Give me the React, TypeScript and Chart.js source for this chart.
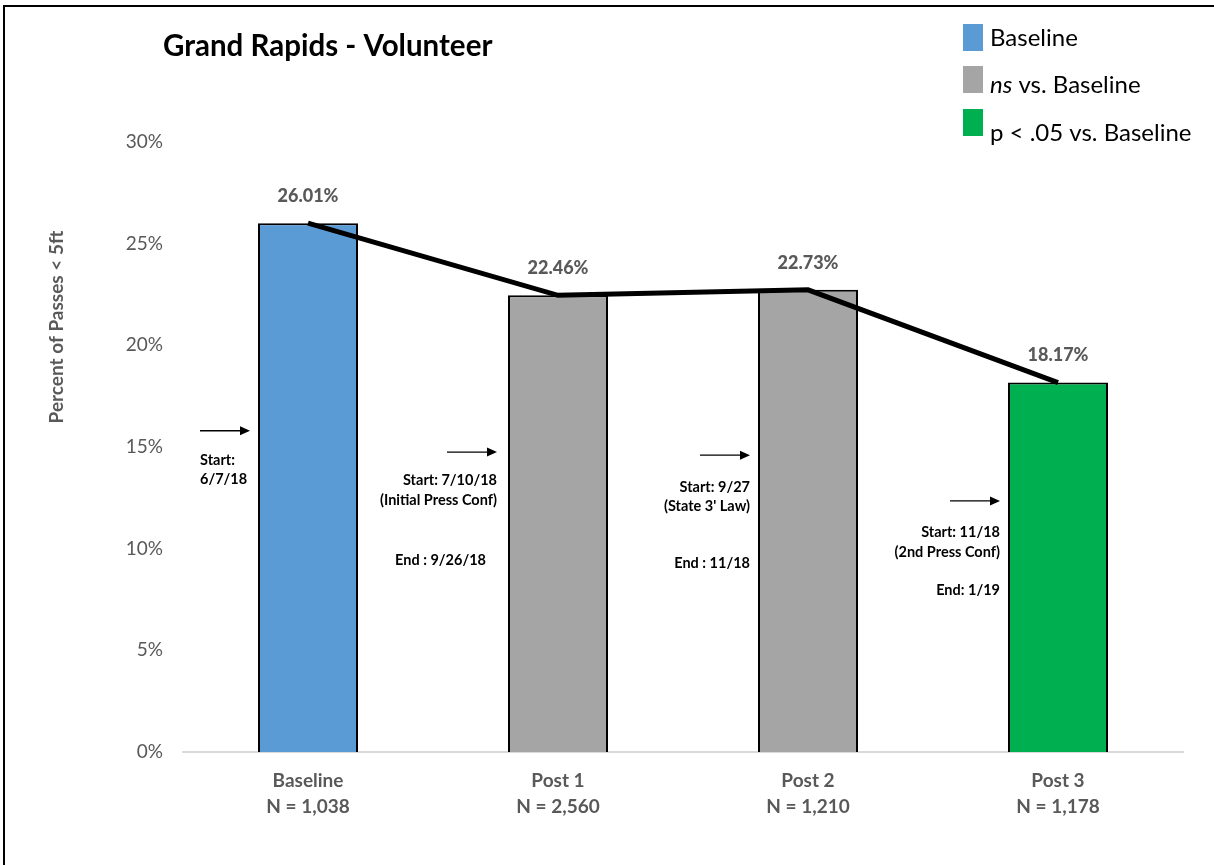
import React, { useEffect, useRef } from "react";
import { Chart, registerables } from "chart.js";

Chart.register(...registerables);

const categories: string[][] = [
  ["Baseline", "N = 1,038"],
  ["Post 1", "N = 2,560"],
  ["Post 2", "N = 1,210"],
  ["Post 3", "N = 1,178"],
];
const values: number[] = [26.01, 22.46, 22.73, 18.17];
const barColors: string[] = ["#5b9bd5", "#a5a5a5", "#a5a5a5", "#00b050"];
const yTicks: number[] = [0, 5, 10, 15, 20, 25, 30];
const titleText = "Grand Rapids - Volunteer";
const yTitle = "Percent of Passes < 5ft";
const legendItems = [
  { color: "#5b9bd5", italic: "", text: "Baseline" },
  { color: "#a5a5a5", italic: "ns", text: " vs. Baseline" },
  { color: "#00b050", italic: "", text: "p < .05 vs. Baseline" },
];
// arrow level (in % units) and note lines for each category
const arrowLevels: number[] = [15.8, 14.75, 14.6, 12.35];
const noteStart: string[][] = [
  ["Start:", "6/7/18"],
  ["Start: 7/10/18", "(Initial Press Conf)"],
  ["Start: 9/27", "(State 3' Law)"],
  ["Start: 11/18", "(2nd Press Conf)"],
];
const noteEnd: string[] = ["", "End : 9/26/18", "End : 11/18", "End: 1/19"];

// styling offsets for notes (pixels)
const tipOffset = [58, 61, 58, 58];
const startOffsets = [[30, 49], [28, 48], [32, 51], [31, 51]];
const endOffset = [0, 108, 108, 89];
const endShift = [0, 11, 0, 0];

const FONT = "Lato, 'Open Sans', sans-serif";

export default function App() {
  const ref = useRef<HTMLCanvasElement | null>(null);
  useEffect(() => {
    document.body.style.margin = "0";
    const canvas = ref.current!;
    const overlay = {
      id: "overlay",
      afterDatasetsDraw(chart: any) {
        const ctx = chart.ctx as CanvasRenderingContext2D;
        const x = chart.scales.x;
        const y = chart.scales.y;
        ctx.save();
        // data labels
        ctx.fillStyle = "#595959";
        ctx.font = `900 18px ${FONT}`;
        ctx.textAlign = "center";
        ctx.textBaseline = "middle";
        values.forEach((v, i) => {
          ctx.fillText(v.toFixed(2) + "%", x.getPixelForValue(i), y.getPixelForValue(v) - 27);
        });
        // arrows & notes
        ctx.fillStyle = "#000";
        ctx.strokeStyle = "#000";
        ctx.lineWidth = 1.3;
        values.forEach((_, i) => {
          const cx = x.getPixelForValue(i);
          const ay = y.getPixelForValue(arrowLevels[i]);
          const x1 = cx - tipOffset[i];
          const x0 = x1 - 50;
          ctx.beginPath();
          ctx.moveTo(x0, ay);
          ctx.lineTo(x1 - 8, ay);
          ctx.stroke();
          ctx.beginPath();
          ctx.moveTo(x1, ay);
          ctx.lineTo(x1 - 10, ay - 4.5);
          ctx.lineTo(x1 - 10, ay + 4.5);
          ctx.closePath();
          ctx.fill();
          ctx.font = `bold 14.5px ${FONT}`;
          ctx.textBaseline = "middle";
          if (i === 0) {
            ctx.textAlign = "left";
            noteStart[i].forEach((t, k) => ctx.fillText(t, x0, ay + startOffsets[i][k]));
          } else {
            ctx.textAlign = "right";
            noteStart[i].forEach((t, k) => ctx.fillText(t, x1, ay + startOffsets[i][k]));
            ctx.fillText(noteEnd[i], x1 - endShift[i], ay + endOffset[i]);
          }
        });
        // title
        ctx.textAlign = "left";
        ctx.textBaseline = "alphabetic";
        ctx.font = `bold 29.5px ${FONT}`;
        ctx.fillText(titleText, 163, 56);
        // y axis title
        ctx.save();
        ctx.translate(57, 327);
        ctx.rotate(-Math.PI / 2);
        ctx.textAlign = "center";
        ctx.textBaseline = "middle";
        ctx.fillStyle = "#595959";
        ctx.font = `bold 19px ${FONT}`;
        ctx.fillText(yTitle, 0, 0);
        ctx.restore();
        // legend
        const sqTops = [24, 66, 109];
        const baselines = [46, 93, 141];
        legendItems.forEach((it, k) => {
          ctx.fillStyle = it.color;
          ctx.fillRect(963, sqTops[k], 20, 27);
          ctx.fillStyle = "#000";
          ctx.textAlign = "left";
          ctx.textBaseline = "alphabetic";
          let tx = 990;
          if (it.italic) {
            ctx.font = `italic 24px ${FONT}`;
            ctx.fillText(it.italic, tx, baselines[k]);
            tx += ctx.measureText(it.italic).width;
          }
          ctx.font = `24px ${FONT}`;
          ctx.fillText(it.text, tx, baselines[k]);
        });
        ctx.restore();
      },
    };
    const chart = new Chart(canvas, {
      type: "bar",
      data: {
        labels: categories,
        datasets: [
          {
            type: "line",
            data: values,
            borderColor: "#000",
            borderWidth: 5,
            pointRadius: 0,
            tension: 0,
            order: 0,
          } as any,
          {
            type: "bar",
            data: values,
            backgroundColor: barColors,
            borderColor: "#000",
            borderWidth: 2,
            categoryPercentage: 0.4,
            barPercentage: 1,
            order: 1,
          },
        ],
      },
      options: {
        animation: false,
        responsive: false,
        maintainAspectRatio: false,
        layout: { padding: { top: 142, right: 31, left: 0, bottom: 0 } },
        plugins: { legend: { display: false }, tooltip: { enabled: false }, title: { display: false } },
        scales: {
          x: {
            grid: { display: false, drawTicks: false },
            border: { display: true, color: "#d9d9d9", width: 2 },
            ticks: {
              color: "#595959",
              font: { family: FONT, size: 19, weight: "bold", lineHeight: 1.37 },
              padding: 16,
              maxRotation: 0,
            },
            afterFit(s: any) {
              s.height = 113;
            },
          },
          y: {
            min: 0,
            max: 30,
            grid: { display: false, drawTicks: false },
            border: { display: false },
            afterBuildTicks(s: any) {
              s.ticks = yTicks.map((v) => ({ value: v }));
            },
            ticks: {
              color: "#595959",
              font: { family: FONT, size: 19 },
              padding: 20,
              callback: (v: any) => v + "%",
            },
            afterFit(s: any) {
              s.width = 183;
            },
          },
        },
      },
      plugins: [overlay],
    });
    return () => chart.destroy();
  }, []);
  return (
    <div style={{ position: "relative", width: 1214, height: 865, background: "#fff" }}>
      <canvas ref={ref} width={1214} height={865} style={{ display: "block" }} />
      <div
        style={{
          position: "absolute",
          left: 3,
          top: 5,
          right: -5,
          bottom: -5,
          borderLeft: "2px solid #000",
          borderTop: "2px solid #000",
          pointerEvents: "none",
        }}
      />
    </div>
  );
}
